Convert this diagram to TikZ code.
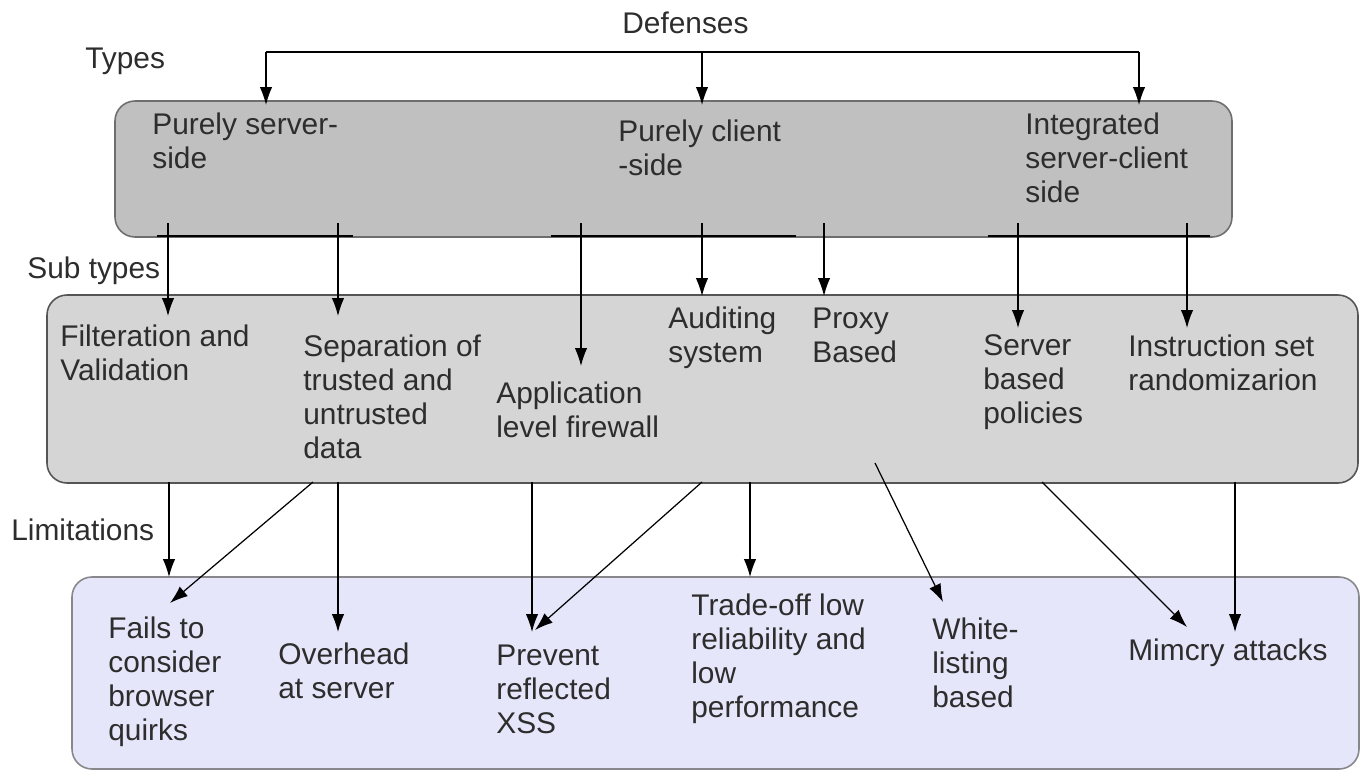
\documentclass[tikz,border=0pt]{standalone}
\usepackage{fontspec}
\setmainfont{Liberation Sans}
\usetikzlibrary{arrows.meta}

\definecolor{typefill}{RGB}{192,192,192}
\definecolor{typeline}{RGB}{110,110,110}
\definecolor{subfill}{RGB}{213,213,213}
\definecolor{subline}{RGB}{85,85,85}
\definecolor{limfill}{RGB}{230,230,250}
\definecolor{limline}{RGB}{135,135,140}
\definecolor{txtgray}{RGB}{45,45,45}

\tikzset{
  lbl/.style={anchor=base west, inner sep=0pt, align=left, text=txtgray,
    font=\fontsize{17}{19.3}\selectfont},
  arr/.style={-{Latex[length=3.6mm,width=2.5mm]}, line width=0.7pt},
  box/.style={rounded corners=0.4cm, line width=0.9pt}
}

\begin{document}
\begin{tikzpicture}[x=0.02cm,y=-0.02cm]
			\useasboundingbox (0,0) rectangle (1365,771);
			% the three layers
			\draw[box, draw=typeline, fill=typefill] (115,101) rectangle (1232,237);
			\draw[box, draw=subline, fill=subfill] (47,295) rectangle (1358,483);
			\draw[box, draw=limline, fill=limfill] (72,577) rectangle (1359,769);
			% darker pieces of the lower edge of the top layer
			\draw[line width=1pt] (157,236) -- (353,236);
			\draw[line width=1pt] (551,236) -- (796,236);
			\draw[line width=1pt] (988,236) -- (1210,236);

			% row labels (base = last line)
			\node (defenses) [lbl] at (622,33) {Defenses};
			\node (typeslbl) [lbl] at (85,68) {Types};
			\node (subslbl) [lbl] at (27,278) {Sub types};
			\node (limslbl) [lbl] at (11,540) {Limitations};

			% types
			\node (server) [lbl] at (152,168) {Purely server-\\side};
			\node (client) [lbl] at (618,175) {Purely client\\-side};
			\node (integ) [lbl] at (1025,202) {Integrated\\server-client\\side};

			% sub types
			\node (filt) [lbl] at (60,380) {Filteration and\\Validation};
			\node (sep) [lbl] at (303,458) {Separation of\\trusted and\\untrusted\\data};
			\node (appfw) [lbl] at (496,437) {Application\\level firewall};
			\node (audit) [lbl] at (668,362) {Auditing\\system};
			\node (proxy) [lbl] at (812,362) {Proxy\\Based};
			\node (srvpol) [lbl] at (983,423) {Server\\based\\policies};
			\node (isr) [lbl] at (1128,390) {Instruction set\\randomizarion};

			% limitations
			\node (fails) [lbl] at (108,740) {Fails to\\consider\\browser\\quirks};
			\node (overhead) [lbl] at (278,698) {Overhead\\at server};
			\node (prevent) [lbl] at (496,733) {Prevent\\reflected\\XSS};
			\node (tradeoff) [lbl] at (691,717) {Trade-off low\\reliability and\\low\\performance};
			\node (white) [lbl] at (932,707) {White-\\listing\\based};
			\node (mimcry) [lbl] at (1128,660) {Mimcry attacks};

			% defenses -> types
			\coordinate (D1) at (266,52);
			\coordinate (D2) at (702,52);
			\coordinate (D3) at (1139,52);
			\coordinate (T1) at (266,105);
			\coordinate (T2) at (702,105);
			\coordinate (T3) at (1139,105);
			\draw[line width=0.7pt] (D1) -- (D3);
			\draw[arr] (D1) -- (T1);
			\draw[arr] (D2) -- (T2);
			\draw[arr] (D3) -- (T3);

			% types -> sub types
			\coordinate (A1) at (168,223);
			\coordinate (A2) at (338,223);
			\coordinate (A3) at (581,223);
			\coordinate (A4) at (702,223);
			\coordinate (A5) at (824,223);
			\coordinate (A6) at (1018,223);
			\coordinate (A7) at (1187,223);
			\coordinate (S1) at (168,316);
			\coordinate (S2) at (338,316);
			\coordinate (S3) at (581,366);
			\coordinate (S4) at (702,296);
			\coordinate (S5) at (824,296);
			\coordinate (S6) at (1018,328);
			\coordinate (S7) at (1187,328);
			\draw[arr] (A1) -- (S1);
			\draw[arr] (A2) -- (S2);
			\draw[arr] (A3) -- (S3);
			\draw[arr] (A4) -- (S4);
			\draw[arr] (A5) -- (S5);
			\draw[arr] (A6) -- (S6);
			\draw[arr] (A7) -- (S7);

			% sub types -> limitations
			\coordinate (B1) at (169,482);
			\coordinate (B2) at (313,482);
			\coordinate (B3) at (338,482);
			\coordinate (B4) at (532,482);
			\coordinate (B5) at (702,482);
			\coordinate (B6) at (750,482);
			\coordinate (B7) at (875,463);
			\coordinate (B8) at (1042,482);
			\coordinate (B9) at (1235,482);
			\coordinate (L1) at (169,577);
			\coordinate (L2) at (170,603);
			\coordinate (L3) at (338,632);
			\coordinate (L4) at (532,632);
			\coordinate (L5) at (535,630);
			\coordinate (L6) at (750,577);
			\coordinate (L7) at (943,602);
			\coordinate (L8) at (1187,627);
			\coordinate (L9) at (1235,632);
			\draw[arr] (B1) -- (L1);
			\draw[arr] (B2) -- (L2);
			\draw[arr] (B3) -- (L3);
			\draw[arr] (B4) -- (L4);
			\draw[arr] (B5) -- (L5);
			\draw[arr] (B6) -- (L6);
			\draw[arr] (B7) -- (L7);
			\draw[arr] (B8) -- (L8);
			\draw[arr] (B9) -- (L9);
		\end{tikzpicture}
\end{document}
